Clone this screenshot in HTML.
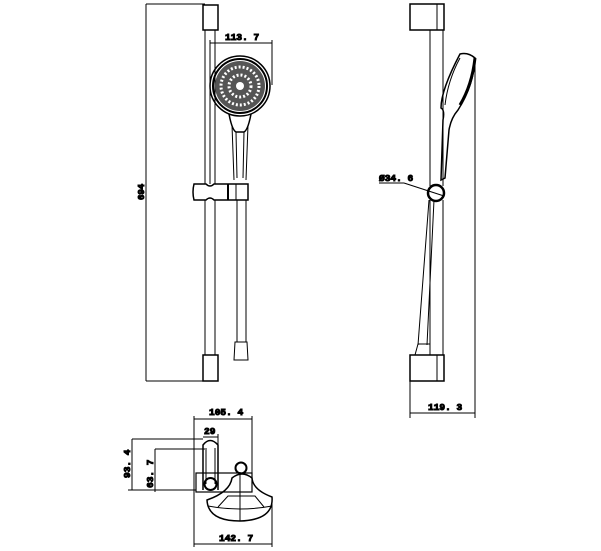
<!DOCTYPE html>
<html><head><style>html,body{margin:0;padding:0;background:#fff}svg{display:block}text{font-family:"Liberation Mono",monospace;font-weight:bold;font-size:10px;fill:#000}</style></head><body>
<svg width="601" height="551" viewBox="0 0 601 551" fill="none" stroke="#000" stroke-width="1">
<!-- FRONT VIEW -->
<line x1="146" y1="4" x2="146" y2="381"/>
<line x1="146" y1="4" x2="205" y2="4"/>
<line x1="146" y1="381" x2="212" y2="381"/>
<text x="0" y="0" transform="translate(144,200) rotate(-90)" style="font-size:9px">694</text>
<rect x="203" y="5" width="15" height="25" stroke-width="1.5"/>
<line x1="205" y1="30" x2="205" y2="184"/><line x1="215" y1="30" x2="215" y2="184"/>
<line x1="205" y1="200" x2="205" y2="355"/><line x1="215" y1="200" x2="215" y2="355"/>
<rect x="203" y="355" width="15" height="26" stroke-width="1.5"/>
<!-- 113.7 -->
<line x1="210" y1="43" x2="272" y2="43"/>
<line x1="210" y1="40" x2="210" y2="184"/><line x1="272" y1="40" x2="272" y2="85"/>
<text x="225" y="40" style="font-size:9.5px">113. 7</text>
<!-- head -->
<circle cx="240" cy="86" r="30" stroke-width="1.5"/>
<circle cx="240" cy="86" r="27" stroke-width="2"/>
<circle cx="240" cy="86" r="25" fill="#555" stroke="none"/>
<circle cx="240" cy="86" r="19" fill="none" stroke="#fff" stroke-width="3" stroke-dasharray="2 2"/>
<circle cx="240" cy="86" r="11" fill="none" stroke="#fff" stroke-width="3" stroke-dasharray="2 2"/>
<circle cx="240" cy="86" r="4" fill="#fff" stroke="none"/>
<path d="M229 114 Q232 130 236 132 L244 132 Q248 130 251 114" stroke-width="1.5"/>
<path d="M232 125 L234 180 M248 125 L246 180 M236 132 L237 178 M244 132 L243 178"/>
<!-- slider -->
<path d="M194 184 L206 184 Q210 188 214 184 L248 184 L248 200 L214 200 Q210 196 206 200 L194 200 Q192 192 194 184Z" stroke-width="1.5"/>
<line x1="228" y1="184" x2="228" y2="200" stroke-width="2"/>
<line x1="236" y1="184" x2="236" y2="200"/>
<!-- hose -->
<line x1="237" y1="200" x2="237" y2="342"/><line x1="246" y1="200" x2="246" y2="342"/>
<path d="M235 342 L247 342 L248 360 L234 360Z"/>
<!-- SIDE VIEW -->
<rect x="410" y="4" width="34" height="26" stroke-width="1.5"/>
<line x1="437" y1="4" x2="437" y2="30"/>
<line x1="430" y1="30" x2="430" y2="186"/><line x1="443" y1="30" x2="443" y2="186"/>
<line x1="430" y1="200" x2="430" y2="355"/><line x1="443" y1="200" x2="443" y2="355"/>
<path d="M460 54 Q468 52 475 58 Q474 85 458 110 Q451 118 449 130 L445 178 L441 180 L443 120 Q445 110 441 108 Q441 90 460 54Z" stroke-width="1.5"/>
<path d="M475 58 Q472 85 460 105" stroke-width="3"/>
<path d="M460 58 Q448 80 445 105"/>
<circle cx="436" cy="193" r="8" stroke-width="2.5"/>
<line x1="379" y1="183" x2="404" y2="183"/><line x1="404" y1="183" x2="444" y2="196"/>
<text x="379" y="181" style="font-size:9.5px">Ø34. 6</text>
<line x1="475" y1="58" x2="475" y2="418"/>
<path d="M429 200 L418 345 M434 200 L427 345"/>
<path d="M418 344 L430 344 L430 355 L415 355Z"/>
<rect x="410" y="355" width="34" height="26" stroke-width="1.5"/>
<line x1="437" y1="355" x2="437" y2="381"/>
<line x1="410" y1="381" x2="410" y2="418"/>
<line x1="410" y1="413" x2="475" y2="413"/>
<text x="428" y="410" style="font-size:9.5px">119. 3</text>
<!-- BOTTOM VIEW -->
<line x1="194" y1="419" x2="252" y2="419"/>
<line x1="194" y1="416" x2="194" y2="547"/><line x1="252" y1="416" x2="252" y2="473"/>
<text x="209" y="415" style="font-size:9.5px">105. 4</text>
<line x1="203" y1="437" x2="218" y2="437"/><line x1="218" y1="434" x2="218" y2="473"/>
<text x="204" y="434" style="font-size:9.5px">29</text>
<line x1="132" y1="439" x2="203" y2="439"/><line x1="132" y1="439" x2="132" y2="490"/><line x1="128" y1="490" x2="196" y2="490"/>
<text x="0" y="0" transform="translate(130,478) rotate(-90)" style="font-size:9.5px">93. 4</text>
<line x1="155" y1="449" x2="205" y2="449"/><line x1="155" y1="449" x2="155" y2="492"/>
<text x="0" y="0" transform="translate(153,488) rotate(-90)" style="font-size:9.5px">63. 7</text>
<rect x="196" y="473" width="56" height="19" stroke-width="1.2"/>
<path d="M203 490 L203 445 Q210 436 218 445 L218 490" stroke-width="1.5"/>
<line x1="206" y1="448" x2="206" y2="484"/><line x1="215" y1="448" x2="215" y2="484"/>
<circle cx="210.5" cy="484" r="6" stroke-width="2"/>
<circle cx="241" cy="468" r="5.5" stroke-width="2"/>
<path d="M232 478 Q242 470 252 478 Q253 490 272 497 Q274 520 240 521 Q208 521 207 500 Q230 492 232 478Z" stroke-width="1.5"/>
<path d="M208 506 Q240 512 272 506"/>
<path d="M218 507 L228 496 L255 496 L264 507"/>
<line x1="240" y1="472" x2="240" y2="521"/>
<line x1="272" y1="500" x2="272" y2="547"/>
<line x1="194" y1="544" x2="272" y2="544"/>
<text x="219" y="541" style="font-size:9.5px">142. 7</text>
</svg>
</body></html>
